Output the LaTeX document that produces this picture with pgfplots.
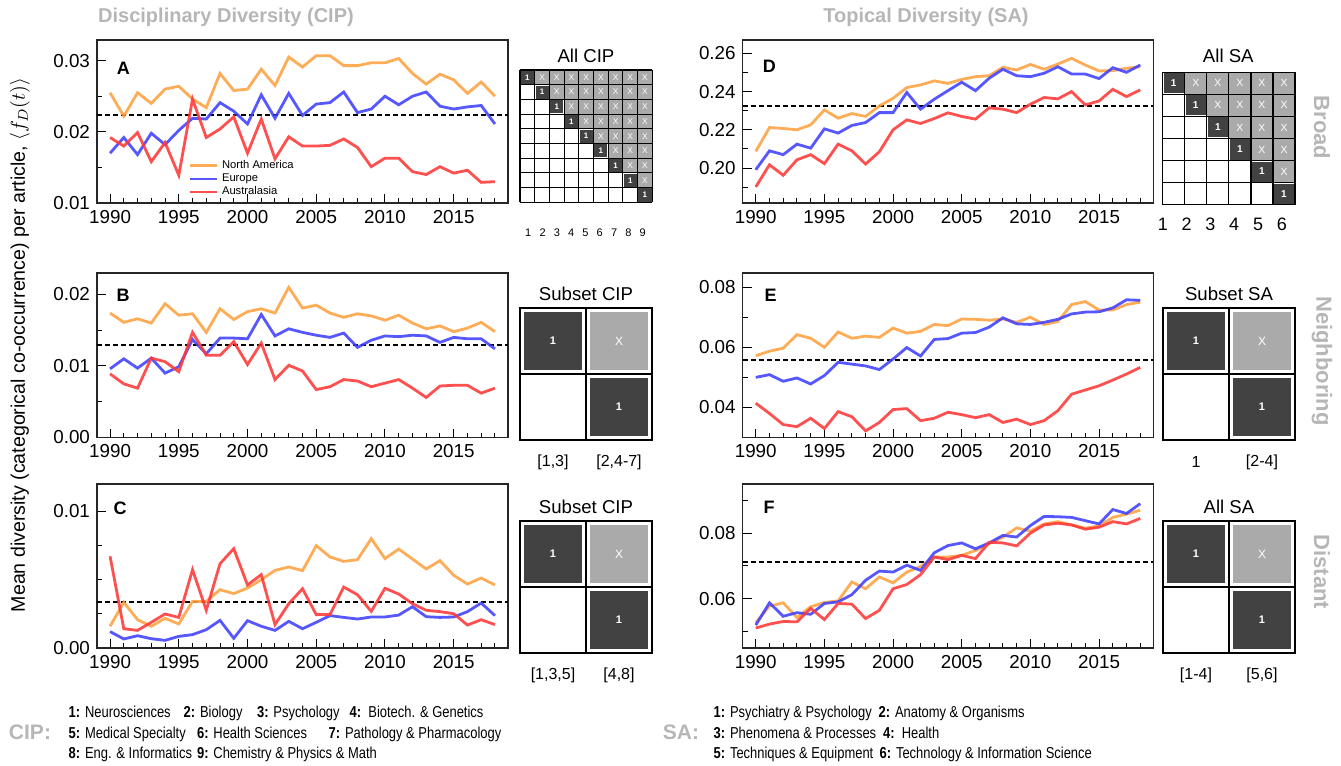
\documentclass[border=0pt]{standalone}
\usepackage{pgfplots}
\pgfplotsset{compat=1.18}
\usepackage{pgfplotstable}
\usepackage{graphicx}
\usepackage{fontspec}
\setmainfont{Liberation Sans}

\definecolor{cNA}{RGB}{255,160,64}
\definecolor{cEU}{RGB}{64,64,255}
\definecolor{cAU}{RGB}{255,56,56}
\definecolor{ttl}{RGB}{182,182,182}
\definecolor{dk}{RGB}{66,66,66}
\definecolor{lg}{RGB}{170,170,170}

\pgfplotsset{
  /pgf/number format/assume math mode=true,
  panel/.style={
    scale only axis, anchor=south west,
    xmin=1989.05, xmax=2018.95,
    xtick={1990,1995,...,2015}, minor xtick={1990,...,2018},
    scaled ticks=false,
    tick align=inside, xtick pos=bottom, ytick pos=left,
    major tick length=4.5pt, minor tick length=2.5pt,
    every tick/.style={black, line width=0.5pt},
    axis line style={line width=0.6pt, black!85},
    ticklabel style={font=\fontsize{9.4}{10}\selectfont},
    xticklabel style={/pgf/number format/1000 sep={}},
    yticklabel style={/pgf/number format/fixed, /pgf/number format/fixed zerofill, /pgf/number format/precision=2},
    every axis plot/.append style={line width=1.4pt, opacity=0.88, no marks},
  },
  mean/.style={black, dash pattern=on 2.4pt off 1.6pt, line width=0.9pt, opacity=1, forget plot},
}

\pgfplotstableread{
yr na eu au
1990 0.0255 0.0170 0.0192
1991 0.0222 0.0192 0.0180
1992 0.0255 0.0168 0.0199
1993 0.0240 0.0198 0.0158
1994 0.0260 0.0182 0.0185
1995 0.0264 0.0202 0.0139
1996 0.0246 0.0219 0.0246
1997 0.0234 0.0218 0.0192
1998 0.0282 0.0241 0.0204
1999 0.0258 0.0229 0.0221
2000 0.0260 0.0211 0.0170
2001 0.0288 0.0252 0.0218
2002 0.0265 0.0219 0.0162
2003 0.0305 0.0254 0.0193
2004 0.0291 0.0223 0.0180
2005 0.0307 0.0239 0.0180
2006 0.0307 0.0241 0.0181
2007 0.0293 0.0256 0.0190
2008 0.0293 0.0227 0.0178
2009 0.0297 0.0232 0.0151
2010 0.0297 0.0250 0.0163
2011 0.0303 0.0238 0.0163
2012 0.0282 0.0250 0.0144
2013 0.0267 0.0256 0.0140
2014 0.0281 0.0236 0.0151
2015 0.0273 0.0232 0.0142
2016 0.0254 0.0235 0.0146
2017 0.0270 0.0237 0.0129
2018 0.0250 0.0211 0.0130
}\tabA

\pgfplotstableread{
yr na eu au
1990 0.0174 0.0096 0.0089
1991 0.0161 0.0110 0.0075
1992 0.0166 0.0097 0.0069
1993 0.0160 0.0111 0.0111
1994 0.0187 0.0090 0.0106
1995 0.0171 0.0099 0.0092
1996 0.0173 0.0137 0.0147
1997 0.0147 0.0117 0.0115
1998 0.0180 0.0139 0.0115
1999 0.0165 0.0139 0.0134
2000 0.0176 0.0138 0.0102
2001 0.0180 0.0172 0.0132
2002 0.0174 0.0142 0.0081
2003 0.0210 0.0152 0.0101
2004 0.0181 0.0147 0.0093
2005 0.0185 0.0143 0.0067
2006 0.0174 0.0140 0.0071
2007 0.0168 0.0146 0.0081
2008 0.0173 0.0126 0.0079
2009 0.0170 0.0136 0.0071
2010 0.0164 0.0142 0.0076
2011 0.0171 0.0141 0.0081
2012 0.0160 0.0143 0.0069
2013 0.0152 0.0142 0.0056
2014 0.0156 0.0133 0.0072
2015 0.0148 0.0140 0.0073
2016 0.0153 0.0138 0.0073
2017 0.0161 0.0138 0.0062
2018 0.0148 0.0124 0.0069
}\tabB

\pgfplotstableread{
yr na eu au
1990 0.00159 0.00120 0.00671
1991 0.00334 0.00066 0.00141
1992 0.00207 0.00090 0.00129
1993 0.00159 0.00068 0.00188
1994 0.00217 0.00056 0.00249
1995 0.00176 0.00085 0.00224
1996 0.00341 0.00098 0.00573
1997 0.00341 0.00134 0.00276
1998 0.00427 0.00202 0.00617
1999 0.00398 0.00071 0.00727
2000 0.00439 0.00200 0.00461
2001 0.00500 0.00159 0.00537
2002 0.00568 0.00129 0.00171
2003 0.00593 0.00195 0.00324
2004 0.00566 0.00141 0.00434
2005 0.00749 0.00188 0.00244
2006 0.00666 0.00237 0.00246
2007 0.00634 0.00224 0.00446
2008 0.00646 0.00212 0.00390
2009 0.00800 0.00227 0.00268
2010 0.00654 0.00227 0.00437
2011 0.00724 0.00241 0.00395
2012 0.00651 0.00302 0.00324
2013 0.00578 0.00229 0.00276
2014 0.00639 0.00224 0.00266
2015 0.00532 0.00227 0.00251
2016 0.00468 0.00266 0.00168
2017 0.00512 0.00329 0.00207
2018 0.00461 0.00237 0.00171
}\tabC

\pgfplotstableread{
yr na eu au
1990 0.2087 0.1991 0.1901
1991 0.2212 0.2090 0.2017
1992 0.2207 0.2070 0.1962
1993 0.2200 0.2125 0.2043
1994 0.2226 0.2104 0.2070
1995 0.2304 0.2205 0.2023
1996 0.2261 0.2183 0.2125
1997 0.2285 0.2223 0.2090
1998 0.2270 0.2238 0.2021
1999 0.2325 0.2290 0.2085
2000 0.2365 0.2290 0.2200
2001 0.2421 0.2395 0.2252
2002 0.2435 0.2308 0.2233
2003 0.2456 0.2360 0.2259
2004 0.2443 0.2405 0.2289
2005 0.2464 0.2449 0.2270
2006 0.2478 0.2405 0.2256
2007 0.2483 0.2470 0.2315
2008 0.2527 0.2517 0.2308
2009 0.2513 0.2483 0.2290
2010 0.2542 0.2478 0.2334
2011 0.2517 0.2496 0.2369
2012 0.2544 0.2530 0.2362
2013 0.2574 0.2492 0.2400
2014 0.2539 0.2492 0.2330
2015 0.2508 0.2468 0.2351
2016 0.2510 0.2525 0.2412
2017 0.2522 0.2501 0.2374
2018 0.2530 0.2539 0.2409
}\tabD

\pgfplotstableread{
yr na eu au
1990 0.0572 0.0500 0.0414
1991 0.0587 0.0509 0.0380
1992 0.0597 0.0487 0.0343
1993 0.0642 0.0498 0.0336
1994 0.0630 0.0478 0.0364
1995 0.0600 0.0506 0.0330
1996 0.0651 0.0550 0.0386
1997 0.0630 0.0544 0.0369
1998 0.0637 0.0538 0.0322
1999 0.0633 0.0526 0.0350
2000 0.0664 0.0561 0.0393
2001 0.0647 0.0599 0.0396
2002 0.0653 0.0571 0.0356
2003 0.0676 0.0626 0.0364
2004 0.0672 0.0629 0.0384
2005 0.0694 0.0647 0.0376
2006 0.0693 0.0649 0.0366
2007 0.0690 0.0667 0.0376
2008 0.0694 0.0698 0.0350
2009 0.0683 0.0678 0.0361
2010 0.0700 0.0676 0.0343
2011 0.0676 0.0683 0.0356
2012 0.0686 0.0693 0.0389
2013 0.0742 0.0711 0.0444
2014 0.0752 0.0717 0.0458
2015 0.0724 0.0718 0.0472
2016 0.0724 0.0731 0.0491
2017 0.0742 0.0758 0.0511
2018 0.0750 0.0756 0.0533
}\tabE

\pgfplotstableread{
yr na eu au
1990 0.0526 0.0519 0.0510
1991 0.0577 0.0587 0.0522
1992 0.0587 0.0546 0.0530
1993 0.0542 0.0557 0.0529
1994 0.0575 0.0552 0.0570
1995 0.0588 0.0585 0.0536
1996 0.0593 0.0590 0.0585
1997 0.0651 0.0612 0.0583
1998 0.0630 0.0656 0.0539
1999 0.0666 0.0684 0.0564
2000 0.0648 0.0681 0.0630
2001 0.0681 0.0702 0.0643
2002 0.0698 0.0686 0.0673
2003 0.0727 0.0740 0.0727
2004 0.0727 0.0762 0.0719
2005 0.0732 0.0770 0.0732
2006 0.0747 0.0752 0.0722
2007 0.0768 0.0770 0.0772
2008 0.0788 0.0793 0.0770
2009 0.0816 0.0788 0.0761
2010 0.0806 0.0823 0.0800
2011 0.0828 0.0851 0.0825
2012 0.0835 0.0850 0.0830
2013 0.0825 0.0848 0.0825
2014 0.0815 0.0838 0.0812
2015 0.0822 0.0828 0.0818
2016 0.0848 0.0872 0.0835
2017 0.0858 0.0860 0.0828
2018 0.0870 0.0890 0.0845
}\tabF

\newcommand{\tf}[1]{\fontsize{#1}{#1}\selectfont}
% two-by-two matrix: #1 x0, #2 y0 (px units, y down)
\newcommand{\twobox}[2]{%
  \fill[dk] (#1+4,#2+4) rectangle (#1+62,#2+62);
  \fill[lg] (#1+70,#2+4) rectangle (#1+128,#2+62);
  \fill[dk] (#1+70,#2+70) rectangle (#1+128,#2+128);
  \draw[line width=0.6pt] (#1,#2) rectangle (#1+132,#2+132);
  \draw[line width=0.6pt] (#1+66,#2) -- (#1+66,#2+132);
  \draw[line width=0.6pt] (#1,#2+66) -- (#1+132,#2+66);
  \node[white,font=\bfseries\tf{5.5}] at (#1+33,#2+33) {1};
  \node[white,font=\tf{6}] at (#1+99,#2+33) {X};
  \node[white,font=\bfseries\tf{5.5}] at (#1+99,#2+99) {1};
}

\begin{document}
\begin{tikzpicture}
\begin{scope}[x=0.5pt,y=-0.5pt]
\useasboundingbox (0,0) rectangle (1341,766);
\end{scope}

% ---------------- A ----------------
\begin{axis}[panel, at={(48.5pt,-101.5pt)}, width=205.5pt, height=81.5pt,
  ymin=0.01, ymax=0.0329, ytick={0.01,0.02,0.03}, minor ytick={0.015,0.025},
  legend style={draw=none, fill=none, at={(0.222,0.29)}, anchor=north west,
    font=\tf{5.6}, row sep=-2.9pt, inner sep=0pt},
  legend cell align=left,
  legend image code/.code={\draw[#1, line width=1.2pt] (0pt,0pt) -- (13.5pt,0pt);}]
\addplot[mean] coordinates {(1989.05,0.02234) (2018.95,0.02234)};
\addplot[cNA] table[x=yr,y=na]{\tabA};
\addplot[cEU] table[x=yr,y=eu]{\tabA};
\addplot[cAU] table[x=yr,y=au]{\tabA};
\legend{North America, Europe, Australasia}
\end{axis}

% ---------------- B ----------------
\begin{axis}[panel, at={(48.5pt,-218.75pt)}, width=205.5pt, height=82.25pt,
  ymin=0, ymax=0.023, ytick={0,0.01,0.02}, minor ytick={0.005,0.015}]
\addplot[mean] coordinates {(1989.05,0.01293) (2018.95,0.01293)};
\addplot[cNA] table[x=yr,y=na]{\tabB};
\addplot[cEU] table[x=yr,y=eu]{\tabB};
\addplot[cAU] table[x=yr,y=au]{\tabB};
\end{axis}

% ---------------- C ----------------
\begin{axis}[panel, at={(48.5pt,-324pt)}, width=205.5pt, height=82pt,
  ymin=0, ymax=0.0120, ytick={0,0.01}, minor ytick={0.0025,0.005,0.0075}]
\addplot[mean] coordinates {(1989.05,0.00334) (2018.95,0.00334)};
\addplot[cNA] table[x=yr,y=na]{\tabC};
\addplot[cEU] table[x=yr,y=eu]{\tabC};
\addplot[cAU] table[x=yr,y=au]{\tabC};
\end{axis}

% ---------------- D ----------------
\begin{axis}[panel, at={(371.35pt,-101.5pt)}, width=205.3pt, height=81.5pt,
  ymin=0.1817, ymax=0.267, ytick={0.20,0.22,0.24,0.26}, minor ytick={0.19,0.21,0.23,0.25}]
\addplot[mean] coordinates {(1989.05,0.2323) (2018.95,0.2323)};
\addplot[cNA] table[x=yr,y=na]{\tabD};
\addplot[cEU] table[x=yr,y=eu]{\tabD};
\addplot[cAU] table[x=yr,y=au]{\tabD};
\end{axis}

% ---------------- E ----------------
\begin{axis}[panel, at={(371.35pt,-218.75pt)}, width=205.3pt, height=82.25pt,
  ymin=0.030, ymax=0.0847, ytick={0.04,0.06,0.08}, minor ytick={0.05,0.07}]
\addplot[mean] coordinates {(1989.05,0.0559) (2018.95,0.0559)};
\addplot[cNA] table[x=yr,y=na]{\tabE};
\addplot[cEU] table[x=yr,y=eu]{\tabE};
\addplot[cAU] table[x=yr,y=au]{\tabE};
\end{axis}

% ---------------- F ----------------
\begin{axis}[panel, at={(371.35pt,-324pt)}, width=205.3pt, height=82pt,
  ymin=0.0449, ymax=0.0950, ytick={0.06,0.08}, minor ytick={0.05,0.07,0.09}]
\addplot[mean] coordinates {(1989.05,0.0712) (2018.95,0.0712)};
\addplot[cNA] table[x=yr,y=na]{\tabF};
\addplot[cEU] table[x=yr,y=eu]{\tabF};
\addplot[cAU] table[x=yr,y=au]{\tabF};
\end{axis}

\begin{scope}[x=0.5pt,y=-0.5pt]
% titles
\node[font=\bfseries\tf{10}, text=ttl] at (226,17) {Disciplinary Diversity (CIP)};
\node[font=\bfseries\tf{10}, text=ttl] at (926,17) {Topical Diversity (SA)};
% side labels
\node[font=\bfseries\tf{11}, text=ttl, rotate=-90] at (1322,127.5) {Broad};
\node[font=\bfseries\tf{11}, text=ttl, rotate=-90] at (1322,361) {Neighboring};
\node[font=\bfseries\tf{11}, text=ttl, rotate=-90] at (1322,572) {Distant};
% y label
\node[font=\tf{9.8}, rotate=90] at (20,345) {Mean diversity (categorical co-occurrence) per article, $\langle f_{D}(t)\rangle$};
% panel letters
\node[font=\bfseries\tf{9}] at (123.3,68.3) {A};
\node[font=\bfseries\tf{9}] at (123,295) {B};
\node[font=\bfseries\tf{9}] at (120,508) {C};
\node[font=\bfseries\tf{9}] at (769.3,66.7) {D};
\node[font=\bfseries\tf{9}] at (770.7,295) {E};
\node[font=\bfseries\tf{9}] at (769,507.3) {F};

% All CIP 9x9
\node[font=\tf{9.3}] at (586,56) {All CIP};
\foreach \r in {0,...,8}{
  \foreach \c in {0,...,8}{
    \pgfmathsetmacro\xa{520+14.7*\c}
    \pgfmathsetmacro\ya{70+14.7*\r}
    \ifnum\c>\r
      \fill[lg] (\xa,\ya) rectangle ++(14.7,14.7);
      \node[white,font=\tf{4.2}] at (\xa+7.35,\ya+7.35) {X};
    \fi
    \ifnum\c=\r
      \fill[dk] (\xa+0.8,\ya+0.8) rectangle ++(13.1,13.1);
      \node[white,font=\bfseries\tf{4}] at (\xa+7.35,\ya+7.35) {1};
    \fi
  }
}
\foreach \k in {0,...,9}{
  \draw[line width=0.55pt] (520+14.7*\k,70) -- (520+14.7*\k,202.3);
  \draw[line width=0.55pt] (520,70+14.7*\k) -- (652.3,70+14.7*\k);
}
\foreach \k in {1,...,9}{
  \node[font=\tf{5.5}] at (514+14.3*\k,232.7) {\k};
}

% All SA 6x6
\node[font=\tf{9.3}] at (1228.3,56) {All SA};
\foreach \r in {0,...,5}{
  \foreach \c in {0,...,5}{
    \pgfmathsetmacro\xa{1162.7+22.05*\c}
    \pgfmathsetmacro\ya{72.3+22.05*\r}
    \ifnum\c>\r
      \fill[lg] (\xa,\ya) rectangle ++(22.05,22.05);
      \node[white,font=\tf{5.2}] at (\xa+11.02,\ya+11.02) {X};
    \fi
    \ifnum\c=\r
      \fill[dk] (\xa+1,\ya+1) rectangle ++(20.05,20.05);
      \node[white,font=\bfseries\tf{5}] at (\xa+11.02,\ya+11.02) {1};
    \fi
  }
}
\foreach \k in {0,...,6}{
  \draw[line width=0.6pt] (1162.7+22.05*\k,72.3) -- (1162.7+22.05*\k,204.6);
  \draw[line width=0.6pt] (1162.7,72.3+22.05*\k) -- (1295,72.3+22.05*\k);
}
\foreach \k in {1,...,6}{
  \node[font=\tf{9}] at (1139+23.8*\k,224) {\k};
}

% Subset matrices
\node[font=\tf{9.3}] at (586,294) {Subset CIP};
\twobox{520}{308}
\node[font=\tf{8}] at (553,462) {[1,3]};
\node[font=\tf{8}] at (619,462) {[2,4-7]};

\node[font=\tf{9.3}] at (1229,294) {Subset SA};
\twobox{1163}{308}
\node[font=\tf{8}] at (1196,462) {1};
\node[font=\tf{8}] at (1262,462) {[2-4]};

\node[font=\tf{9.3}] at (586,507) {Subset CIP};
\twobox{520}{521}
\node[font=\tf{8}] at (553,675) {[1,3,5]};
\node[font=\tf{8}] at (619,675) {[4,8]};

\node[font=\tf{9.3}] at (1229,507) {All SA};
\twobox{1163}{521}
\node[font=\tf{8}] at (1196,675) {[1-4]};
\node[font=\tf{8}] at (1262,675) {[5,6]};

% bottom key
\node[font=\bfseries\tf{10.5}, text=ttl] at (30,732.7) {CIP:};
\node[font=\bfseries\tf{10.5}, text=ttl] at (681,732.7) {SA:};
\begin{scope}[every node/.style={anchor=base west, inner sep=0pt, font=\tf{7.9}}]
\node at (68.3,717.3) {\scalebox{0.82}[1]{\textbf{1:} Neurosciences}};
\node at (183.3,717.3) {\scalebox{0.82}[1]{\textbf{2:} Biology}};
\node at (256.7,717.3) {\scalebox{0.82}[1]{\textbf{3:} Psychology}};
\node at (349.3,717.3) {\scalebox{0.82}[1]{\textbf{4:}\ \ Biotech. \& Genetics}};
\node at (68.3,738.3) {\scalebox{0.82}[1]{\textbf{5:} Medical Specialty}};
\node at (196.7,738.3) {\scalebox{0.82}[1]{\textbf{6:} Health Sciences}};
\node at (328.3,738.3) {\scalebox{0.82}[1]{\textbf{7:} Pathology \& Pharmacology}};
\node at (68.3,758.6) {\scalebox{0.82}[1]{\textbf{8:} Eng. \& Informatics}};
\node at (196.7,758.6) {\scalebox{0.82}[1]{\textbf{9:} Chemistry \& Physics \& Math}};
\node at (713.3,717.3) {\scalebox{0.82}[1]{\textbf{1:} Psychiatry \& Psychology}};
\node at (878.3,717.3) {\scalebox{0.82}[1]{\textbf{2:} Anatomy \& Organisms}};
\node at (713.3,738.3) {\scalebox{0.82}[1]{\textbf{3:} Phenomena \& Processes}};
\node at (882.7,738.3) {\scalebox{0.82}[1]{\textbf{4:}\ \ Health}};
\node at (713.3,758.6) {\scalebox{0.82}[1]{\textbf{5:} Techniques \& Equipment}};
\node at (879.3,758.6) {\scalebox{0.82}[1]{\textbf{6:} Technology \& Information Science}};
\end{scope}
\end{scope}
\end{tikzpicture}
\end{document}
